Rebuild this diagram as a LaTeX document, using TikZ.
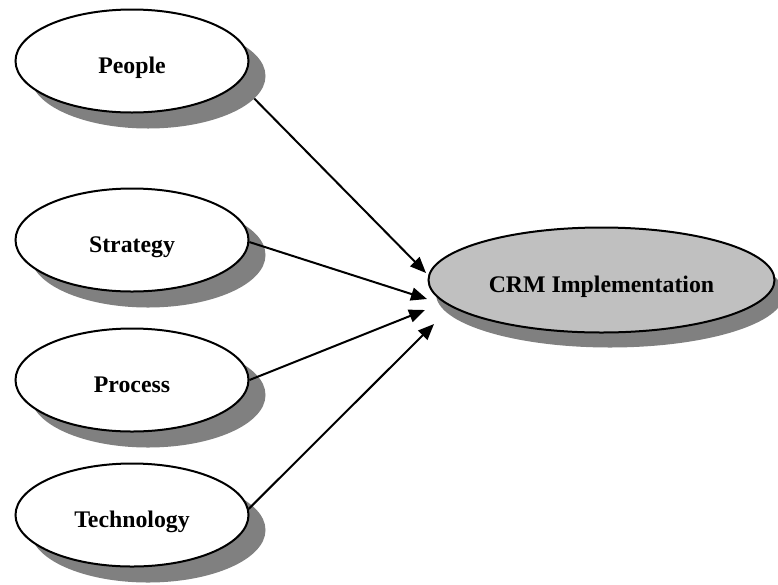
\documentclass[tikz,border=0pt]{standalone}
\usepackage{fontspec}
\setmainfont{Liberation Serif}
\usetikzlibrary{shapes.geometric,arrows.meta}
\definecolor{shadowgray}{HTML}{808080}
\definecolor{crmfill}{HTML}{C0C0C0}
\tikzset{
  oval/.style={ellipse, draw=black, line width=2pt, fill=white,
    minimum width=233pt, minimum height=103pt, inner sep=0pt,
    font=\fontsize{23.8}{28}\selectfont\bfseries,
    text height=29pt, text depth=5pt},
  ovalshadow/.style={ellipse, fill=shadowgray, draw=none,
    minimum width=235pt, minimum height=105pt, inner sep=0pt},
  crmoval/.style={oval, fill=crmfill, minimum width=346pt, minimum height=105pt},
  crmshadow/.style={ovalshadow, minimum width=348pt, minimum height=107pt},
  arr/.style={line width=2pt, -{Triangle[length=16pt,width=13pt]}}
}
\begin{document}
\begin{tikzpicture}[x=1pt,y=-1pt]
\useasboundingbox (0,0) rectangle (778,584);
% shadows
\node[ovalshadow] (peopleS) at (148,76) {};
\node[ovalshadow] (strategyS) at (148,255) {};
\node[ovalshadow] (processS) at (148,395) {};
\node[ovalshadow] (technologyS) at (148,530) {};
\node[crmshadow] (crmS) at (610,294) {};
% ellipses
\node[oval] (people) at (132,61) {People};
\node[oval] (strategy) at (132,240) {Strategy};
\node[oval] (process) at (132,380) {Process};
\node[oval] (technology) at (132,515) {Technology};
\node[crmoval] (crm) at (601.5,280) {CRM Implementation};
% arrow targets
\coordinate (t1) at (426,273);
\coordinate (t2) at (427,299);
\coordinate (t3) at (425,310);
\coordinate (t4) at (434,324);
% connectors
\draw[arr] (peopleS.-12) -- (t1);
\draw[arr] (strategy.-1) -- (t2);
\draw[arr] (process.east) -- (t3);
\draw[arr] (technology.3) -- (t4);
\end{tikzpicture}
\end{document}
